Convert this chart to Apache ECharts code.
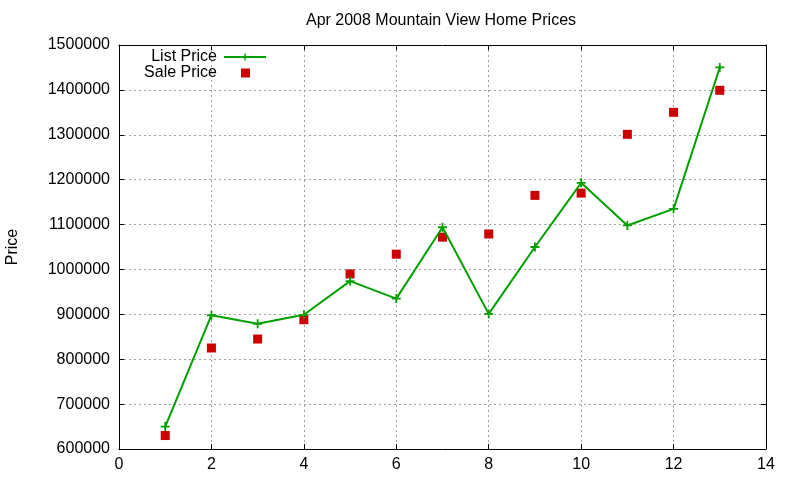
<!DOCTYPE html>
<html>
<head>
<meta charset="utf-8">
<script src="https://cdn.jsdelivr.net/npm/echarts@6/dist/echarts.min.js"></script>
<style>
  html, body { margin: 0; padding: 0; background: #fff; }
  #chart { width: 800px; height: 480px; }
</style>
</head>
<body>
<div id="chart"></div>
<script>
// Apr 2008 Mountain View Home Prices

var months = [1, 2, 3, 4, 5, 6, 7, 8, 9, 10, 11, 12, 13];
var listPrice = [650000, 898000, 879000, 899000, 974000, 935000, 1094000, 901000, 1050000, 1193000, 1098000, 1135000, 1450000];
var salePrice = [630000, 825000, 845000, 888000, 990000, 1034000, 1072000, 1079000, 1165000, 1170000, 1301000, 1350000, 1399000];

var font = 'Liberation Sans, Arial, sans-serif';
var plus = 'path://M4,0h2v4h4v2h-4v4h-2v-4h-4v-2h4z';

document.addEventListener('DOMContentLoaded', () => {
    var chart = echarts.init(document.querySelector('#chart'));

    var gridLine = { show: true, lineStyle: { color: '#a0a0a0', type: [2, 3], width: 1 } };
    var axisLine = { show: true, onZero: false, lineStyle: { color: '#000', width: 1 } };
    var tick = { show: true, inside: true, length: 5, lineStyle: { color: '#000' } };
    var label = { color: '#000', fontSize: 16, fontFamily: font };
    var legendText = { color: '#000', fontSize: 16, fontFamily: font };

    chart.setOption({
        animation: false,
        backgroundColor: '#fff',
        title: {
            text: 'Apr 2008 Mountain View Home Prices',
            left: 436,
            textAlign: 'center',
            top: 8,
            textStyle: { color: '#000', fontSize: 16, fontWeight: 'normal', fontFamily: font }
        },
        grid: { left: 119, right: 34, top: 45, bottom: 31, outerBoundsMode: 'none', containLabel: false },
        legend: [
            {
                data: ['List Price'],
                right: 533,
                top: 49,
                padding: 0,
                align: 'right',
                itemWidth: 42,
                itemHeight: 9,
                itemGap: 0,
                textStyle: Object.assign({ padding: [0, 2, 0, 0] }, legendText)
            },
            {
                data: [{ name: 'Sale Price', icon: 'rect' }],
                right: 550,
                top: 65,
                padding: 0,
                align: 'right',
                itemWidth: 9,
                itemHeight: 9,
                itemGap: 0,
                textStyle: Object.assign({ padding: [0, 19, 0, 0] }, legendText)
            }
        ],
        xAxis: [
            {
                type: 'value', min: 0, max: 14, interval: 2,
                axisLine: axisLine, axisTick: tick, splitLine: gridLine,
                axisLabel: Object.assign({ margin: 8 }, label)
            },
            {
                type: 'value', position: 'top', min: 0, max: 14, interval: 2,
                axisLine: axisLine, axisTick: tick, splitLine: { show: false },
                axisLabel: { show: false }
            }
        ],
        yAxis: [
            {
                type: 'value', min: 600000, max: 1500000, interval: 100000,
                name: 'Price', nameLocation: 'middle', nameGap: 98, nameRotate: 90,
                nameTextStyle: { color: '#000', fontSize: 16, fontFamily: font },
                axisLine: axisLine, axisTick: tick, splitLine: gridLine,
                axisLabel: Object.assign({ margin: 9, formatter: (v) => String(v) }, label)
            },
            {
                type: 'value', position: 'right', min: 600000, max: 1500000, interval: 100000,
                axisLine: axisLine, axisTick: tick, splitLine: { show: false },
                axisLabel: { show: false }
            }
        ],
        series: [
            {
                name: 'List Price',
                type: 'line',
                data: months.map((m, i) => [m, listPrice[i]]),
                symbol: plus,
                symbolSize: 9,
                showAllSymbol: true,
                itemStyle: { color: '#00a000', opacity: 1 },
                lineStyle: { color: '#00a000', width: 2 },
                z: 3
            },
            {
                name: 'Sale Price',
                type: 'scatter',
                data: months.map((m, i) => [m, salePrice[i]]),
                symbol: 'rect',
                symbolSize: 9,
                itemStyle: { color: '#cc0000', opacity: 1 },
                z: 2
            }
        ]
    });
});
</script>
</body>
</html>
